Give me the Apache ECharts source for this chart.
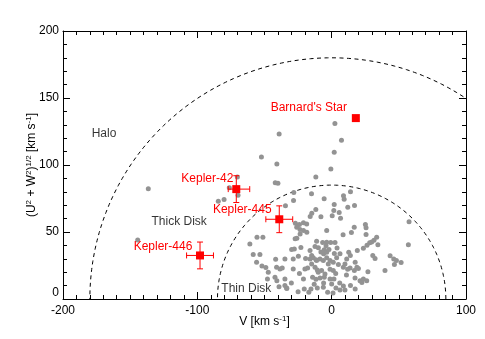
<!DOCTYPE html>
<html><head><meta charset="utf-8">
<script src="https://cdn.jsdelivr.net/npm/echarts@6/dist/echarts.min.js"></script>
<style>html,body{margin:0;padding:0;background:#fff}#c{width:485px;height:339px}</style>
</head><body><div id="c"></div>
<script>
// ---- data ----
const starPts = [
[-136.5,82.3],[-144.4,44.1],[-84.4,73],[-80.1,74.3],[-76.2,83],[-70.2,91],[-69.7,77.5],[-52.3,106],[-39.1,123.2],[2.4,130.9],[7.3,118.4],[1.9,109.5],[-40.8,100.7],[-0.6,97],[-11.8,91],[-42,86.8],[-40,86.3],[-28.2,79.5],[-28.4,73.5],[-15,78.6],[-5.6,74.8],[8.8,77],[9.3,74.5],[14,80],[1.9,70.6],[17,69.8],[12,68.5],[1.6,66],[5.6,64.6],[-11.8,66.8],[-14.8,64],[-16,61.6],[-8,61.3],[0.4,62.1],[6.6,60.3],[16.8,53.6],[-34.4,69.6],
[-27,56.6],[-24,55.6],[-21,56.9],[-18.6,56],[-23.6,51.9],[-26,53.5],[-21,51.1],[-23.5,48.6],[-18.5,49.8],[-25.9,45.3],[-27.2,44.9],
[-3.7,51.1],[8.5,48],[14.7,49.6],[25.1,55.6],[25.6,53.1],[25.6,48.1],[57.6,57.6],[33.5,46.1],[31.5,43.9],[29.8,42.6],[28.3,41.9],[26.3,40.1],[23.6,37.9],[34.4,40.4],[57.1,40.4],[-60.9,41.1],[-55.6,46.1],[-51.2,46.1],[-29.8,36.9],[-27.8,37.4],[-22.9,38.4],[-11.2,43.1],[-6.7,42.1],[-3.7,42.4],[-0.7,42.1],[2.5,42.1],[-12.4,39.2],[-9.9,38.2],[-5.5,36.7],[-4.2,39.7],[-6,33.7],[-3.7,34.9],[19.1,36.2],[12.7,34.9],[13.9,32.4],[30.6,32.4],[32.3,30.2],[43.5,32.2],[46.2,29.9],[48.2,28.7],[51.7,27.2],[46.7,25.7],[-58.4,33.2],[-53.4,33.2],[-55.9,27.4],[-51.9,24.7],[-41.7,29.7],[-34.8,29.9],[-28.6,29.9],[-24.8,31.9],[-19.4,30.2],[-16.1,29.9],[-11.7,29.2],[-41,23.7],[-38.5,22.4],[-36.8,23.2],[-28.6,22.4],[-47.2,20],[-42.2,16.2],[-34.8,15],[-19.9,22.4],[-17.9,23.2],[-39.2,9.2],[-34.8,10],[-33.5,8.2],[-20.4,7.5],[-15.4,7.5],[-10.7,8.2],[-6.2,8.7],[-14.2,16.2],[-11.7,14.7],[-8.7,15.7],[-5.5,16.2],[-1.2,15],[1.7,15],[0,11.2],[3.2,8.2],[6.2,6.7],[8.7,9.7],[9.9,6.7],[11.9,22.2],[9.9,26.2],[13.7,23.2],[16.9,21.2],[19.9,22.7],[17.4,15.7],[21.1,13.7],[23.6,15],[26.1,13.7],[39.7,21.2],[-14.9,26.2],[-12.4,23.7],[-10.7,21.7],[-7.5,21.2],[-5,18.7],[-1.2,22.2],[1.2,21.2],[-16.1,36.2],[-14.9,32.4],[-13.7,30.7],[-11.2,28.7],[-8.7,29.9],[-6.2,28.7],[-3.7,30.7],[-2.5,26.2],[-1.2,28.7],[1.2,27.4],[3.7,30.7],[5,25.7],[6.2,33.7],[8.7,23.7],[11.2,29.9],
[-49,23.6],[-47.8,15],[-40.8,13.7],[-33.4,7.9],
[27,20.4],[22.5,12.4],[17.5,7.5],[18.8,23.7],[17.5,27.4],
[-8,35],[-2,37],[2,34],[4,38],[-10,20],[-6,12],[3,19],[6,12],[-3,5],[-13,11],[14,10],[-25,5.5],[-17,5],[1,4.5],[11,18],[-21,15],[-24,19],[-30,12]
];
const targetNames = ["Barnard's Star", 'Kepler-42', 'Kepler-445', 'Kepler-446'];
const targetV = [18, -71, -39, -98];
const targetUW = [135, 82, 59.5, 32.5];
const targetVErrLo = [0, 6, 10, 10];
const targetVErrHi = [0, 10, 10, 10];
const targetUWErr = [0, 10, 10, 10];
const boundaryRadii = [85, 180];
const regionNames = ['Halo', 'Thick Disk', 'Thin Disk'];
const regionV = [-169.5, -113.5, -63.5];
const regionUW = [123, 58, 7.7];
const xMin = -200, xMax = 100, xStep = 100;
const yMin = 0, yMax = 200, yStep = 50;

// ---- styles ----
const FONT = "'Liberation Sans', Arial, Helvetica, sans-serif";
const RED = '#ff0000';
const GRAY = '#939393';
const labelOffsets = [[-47, -10], [-29, -10], [-37, -10], [-37, -9]];

const chart = echarts.init(document.getElementById('c'), null, {renderer: 'canvas'});

function axisCommon(extra) {
  return Object.assign({
    axisLine: {show: true, onZero: false, lineStyle: {color: '#000', width: 1}},
    axisTick: {show: true, inside: true, length: 7, lineStyle: {color: '#000', width: 1}},
    minorTick: {show: true, length: 4, lineStyle: {color: '#000', width: 1}},
    splitLine: {show: false},
    axisLabel: {color: '#000', fontFamily: FONT, fontSize: 12}
  }, extra);
}

const sup = {fontSize: 8, fontFamily: FONT, color: '#000', verticalAlign: 'top', lineHeight: 14, padding: [0, 0, 6, 0]};

function arcRender(params, api) {
  const r = api.value(0);
  const pts = [];
  for (let a = 0; a <= 180; a += 1) {
    const t = a * Math.PI / 180;
    pts.push(api.coord([r * Math.cos(t), r * Math.sin(t)]));
  }
  const cs = params.coordSys;
  return {
    type: 'polyline', shape: {points: pts},
    style: {stroke: '#000', lineWidth: 1, lineDash: [4, 3.5], fill: null},
    clipPath: {type: 'rect', shape: {x: cs.x, y: cs.y, width: cs.width, height: cs.height}}
  };
}

function errRender(params, api) {
  const v = api.value(0), u = api.value(1), lo = api.value(2), hi = api.value(3), e = api.value(4);
  const l = api.coord([v - lo, u]), r = api.coord([v + hi, u]);
  const t = api.coord([v, u + e]), b = api.coord([v, u - e]);
  const cap = 3;
  const st = {stroke: RED, lineWidth: 1};
  return {type: 'group', children: [
    {type: 'line', shape: {x1: l[0], y1: l[1], x2: r[0], y2: r[1]}, style: st},
    {type: 'line', shape: {x1: l[0], y1: l[1] - cap, x2: l[0], y2: l[1] + cap}, style: st},
    {type: 'line', shape: {x1: r[0], y1: r[1] - cap, x2: r[0], y2: r[1] + cap}, style: st},
    {type: 'line', shape: {x1: t[0], y1: t[1], x2: b[0], y2: b[1]}, style: st},
    {type: 'line', shape: {x1: t[0] - cap, y1: t[1], x2: t[0] + cap, y2: t[1]}, style: st},
    {type: 'line', shape: {x1: b[0] - cap, y1: b[1], x2: b[0] + cap, y2: b[1]}, style: st}
  ]};
}

const errData = targetNames.map((n, i) => [targetV[i], targetUW[i], targetVErrLo[i], targetVErrHi[i], targetUWErr[i]])
  .filter(d => d[2] > 0 || d[4] > 0);

const option = {
  animation: false,
  backgroundColor: '#fff',
  grid: {left: 63, right: 19, top: 31, bottom: 40, containLabel: false, outerBoundsMode: 'none'},
  xAxis: [
    axisCommon({type: 'value', position: 'bottom', min: xMin, max: xMax, interval: xStep,
      minorTick: {show: true, splitNumber: 10, length: 4, lineStyle: {color: '#000'}},
      axisLabel: {color: '#000', fontFamily: FONT, fontSize: 12, margin: 6},
      name: 'V [km s{sup|-1}]', nameLocation: 'middle', nameGap: 16, nameMoveOverlap: false,
      nameTextStyle: {rich: {sup: sup}, fontSize: 12, fontFamily: FONT, color: '#000', lineHeight: 14}}),
    axisCommon({type: 'value', position: 'top', min: xMin, max: xMax, interval: xStep,
      minorTick: {show: true, splitNumber: 10, length: 4, lineStyle: {color: '#000'}},
      axisLabel: {show: false}})
  ],
  yAxis: [
    axisCommon({type: 'value', position: 'left', min: yMin, max: yMax, interval: yStep,
      minorTick: {show: true, splitNumber: 5, length: 4, lineStyle: {color: '#000'}},
      axisLabel: {color: '#000', fontFamily: FONT, fontSize: 12, margin: 4, verticalAlignMinLabel: 'bottom'},
      name: '(U{sup|2} + W{sup|2}){sup|1/2} [km s{sup|-1}]', nameLocation: 'middle', nameGap: 24, nameMoveOverlap: false,
      nameTextStyle: {rich: {sup: sup}, fontSize: 12, fontFamily: FONT, color: '#000', lineHeight: 14}}),
    axisCommon({type: 'value', position: 'right', min: yMin, max: yMax, interval: yStep,
      minorTick: {show: true, splitNumber: 5, length: 4, lineStyle: {color: '#000'}},
      axisLabel: {show: false}})
  ],
  series: [
    {type: 'custom', renderItem: arcRender, data: boundaryRadii.map(r => [r]), silent: true, z: 1},
    {type: 'scatter', data: starPts, symbol: 'circle', symbolSize: 5,
     itemStyle: {color: GRAY, opacity: 1}, z: 2},
    {type: 'custom', renderItem: errRender, data: errData, z: 3, encode: {x: 0, y: 1}},
    {type: 'scatter', symbol: 'rect', symbolSize: 8, itemStyle: {color: RED, opacity: 1}, z: 4,
     data: targetNames.map((n, i) => ({
       value: [targetV[i], targetUW[i]], name: n,
       label: {show: true, position: 'inside', offset: labelOffsets[i], formatter: n,
               color: RED, fontFamily: FONT, fontSize: 12, align: 'center', verticalAlign: 'middle'}
     }))},
    {type: 'scatter', symbolSize: 0, z: 4, silent: true,
     data: regionNames.map((n, i) => ({
       value: [regionV[i], regionUW[i]], name: n,
       label: {show: true, position: 'inside', formatter: n, color: '#000', fontFamily: FONT,
               fontSize: 12, align: 'center', verticalAlign: 'middle'}
     }))}
  ]
};
chart.setOption(option);
</script></body></html>
